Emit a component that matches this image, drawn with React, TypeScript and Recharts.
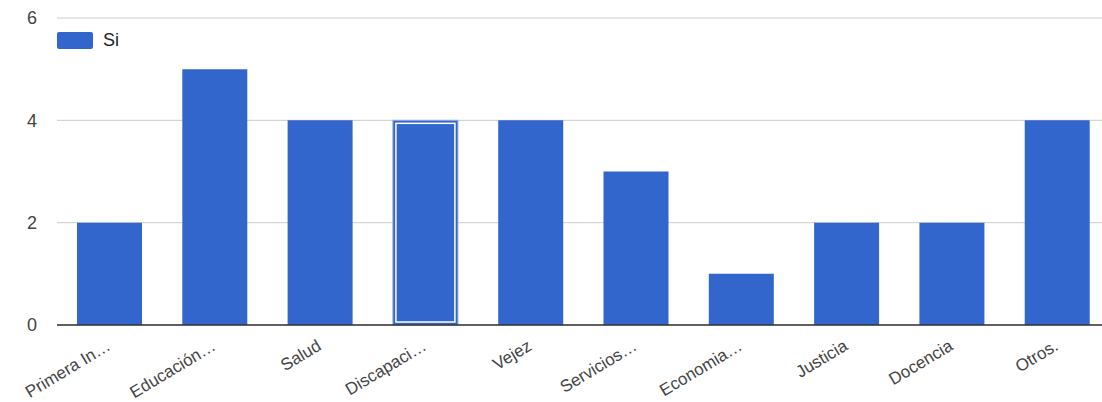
import React from "react";
import {
  Bar,
  BarChart,
  CartesianGrid,
  Legend,
  Rectangle,
  XAxis,
  YAxis,
} from "recharts";

const categories = [
  "Primera In…",
  "Educación…",
  "Salud",
  "Discapaci…",
  "Vejez",
  "Servicios…",
  "Economia…",
  "Justicia",
  "Docencia",
  "Otros.",
];
const siValues = [2, 5, 4, 4, 4, 3, 1, 2, 2, 4];
const yTicks = [0, 2, 4, 6];
const highlighted = 3;

const data = categories.map((name, i) => ({ name, si: siValues[i] }));

const BLUE = "#3366cc";
const FONT = "Arial, 'Liberation Sans', sans-serif";

function XTick({ x, y, payload }: any) {
  const tx = x + 2;
  const ty = y + 22;
  return (
    <text
      x={tx}
      y={ty}
      transform={`rotate(-31, ${tx}, ${ty})`}
      textAnchor="end"
      fill="#444"
      fontSize={17}
      fontFamily={FONT}
    >
      {payload.value}
    </text>
  );
}

function BarShape(props: any) {
  const { x, y, width, height, index } = props;
  if (index !== highlighted) {
    return <Rectangle x={x} y={y} width={width} height={height} fill={BLUE} />;
  }
  return (
    <g>
      <rect x={x} y={y} width={width} height={height} fill={BLUE} stroke="#8fa8e0" strokeWidth={1} />
      <rect
        x={x + 3}
        y={y + 3}
        width={width - 6}
        height={height - 6}
        fill="none"
        stroke="#ffffff"
        strokeWidth={1.5}
      />
    </g>
  );
}

function LegendContent() {
  return (
    <div style={{ display: "flex", alignItems: "center", fontFamily: FONT, fontSize: 18, color: "#222" }}>
      <span style={{ display: "inline-block", width: 36, height: 17, background: BLUE, borderRadius: 2, marginRight: 10 }} />
      <span>Si</span>
    </div>
  );
}

export default function App() {
  return (
    <div style={{ position: "absolute", left: 0, top: 0, width: 1102, height: 402, overflow: "hidden", background: "#fff" }}>
      <BarChart
        width={1110}
        height={402}
        data={data}
        margin={{ top: 18, right: 0, bottom: 0, left: 0 }}
        barCategoryGap="19%"
      >
        <CartesianGrid vertical={false} stroke="#cccccc" />
        <XAxis
          dataKey="name"
          height={77}
          tickLine={false}
          tickSize={0}
          axisLine={{ stroke: "#333333", strokeWidth: 1.5 }}
          tick={<XTick />}
          interval={0}
        />
        <YAxis
          width={57}
          domain={[0, 6]}
          ticks={yTicks}
          axisLine={false}
          tickLine={false}
          tickSize={0}
          tickMargin={20}
          tick={{ fill: "#444", fontSize: 18, fontFamily: FONT }}
        />
        <Legend
          layout="horizontal"
          verticalAlign="middle"
          align="center"
          content={<LegendContent />}
          wrapperStyle={{ top: 30, left: 57, width: "auto", height: "auto" }}
        />
        <Bar dataKey="si" fill={BLUE} shape={<BarShape />} isAnimationActive={false} />
      </BarChart>
    </div>
  );
}
